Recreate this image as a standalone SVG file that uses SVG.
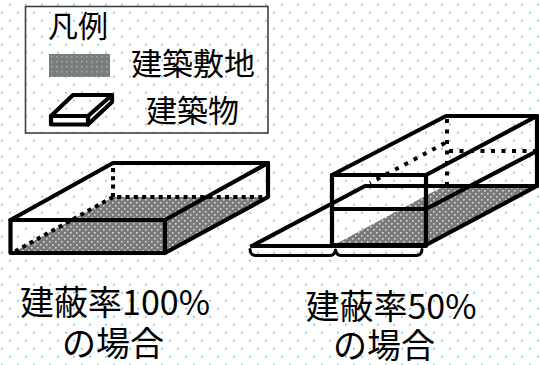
<svg xmlns="http://www.w3.org/2000/svg" width="539" height="365" viewBox="0 0 539 365">
  <defs>
    <pattern id="bgdots" x="0" y="0" width="16" height="16" patternUnits="userSpaceOnUse">
      <rect x="9" y="3.7" width="2" height="2" fill="#9ccfdc"/>
      <rect x="1" y="11.7" width="2" height="2" fill="#9ccfdc"/>
    </pattern>
    <pattern id="site" x="0" y="0" width="6" height="6" patternUnits="userSpaceOnUse">
      <rect width="6" height="6" fill="#7a7a7a"/>
      <rect x="1" y="1" width="1.6" height="1.6" fill="#d8d8d8"/>
      <rect x="4" y="4" width="1.6" height="1.6" fill="#d8d8d8"/>
    </pattern>
    <pattern id="swatch" x="0" y="0" width="5" height="5" patternUnits="userSpaceOnUse">
      <rect width="5" height="5" fill="#7c7c7c"/>
      <rect x="1" y="1" width="1.5" height="1.5" fill="#8fb4c0"/>
    </pattern>
  </defs>
  <style>
    .ln { fill: none; stroke: #000; stroke-width: 4.2; stroke-linejoin: round; stroke-linecap: round; }
    .dot { fill: none; stroke: #000; stroke-width: 4; stroke-linecap: butt; }
    .brace { fill: none; stroke: #000; stroke-width: 3; stroke-linecap: round; stroke-linejoin: round; }
    .txt { font-family: "Noto Sans CJK JP", "Noto Sans", sans-serif; fill: #000; }
  </style>

  <rect width="539" height="365" fill="#fff"/>
  <rect width="539" height="365" fill="url(#bgdots)"/>

  <g id="legend">
    <rect x="25.5" y="6.5" width="242.5" height="126.5" fill="none" stroke="#404040" stroke-width="1.6"/>
    <text class="txt" x="48" y="37" font-size="30">凡例</text>
    <rect x="49" y="54" width="61" height="23" fill="url(#swatch)"/>
    <text class="txt" x="131" y="75" font-size="31">建築敷地</text>
    <g id="legend-icon">
      <rect x="51" y="116" width="37" height="8.5" class="ln"/>
      <path d="M51,116 L73,95 L112,95 L88,116" class="ln"/>
      <path d="M112,95 L112,102 L88,124.5" class="ln"/>
    </g>
    <text class="txt" x="146" y="122" font-size="31">建築物</text>
  </g>

  <g id="building100">
    <polygon points="12,253 165,253 268,197 113,197" fill="url(#site)"/>
    <path d="M113,168 L113,197 L268,197" class="dot" stroke-dasharray="4 4.3"/>
    <path d="M113,197 L14,252" class="dot" stroke-dasharray="4 4.3"/>
    <rect x="10.5" y="220" width="154.5" height="33" class="ln"/>
    <path d="M10.5,220 L113,163 L268,163 L165,220" class="ln"/>
    <path d="M268,163 L268,197 L165,253" class="ln"/>
  </g>

  <g id="building50">
    <polygon points="332,246 426,246 537,186 444,186" fill="url(#site)"/>
    <path d="M447,119 L447,186" class="dot" stroke-dasharray="4 6.5"/>
    <path d="M449,151 L537,151" class="dot" stroke-dasharray="4 6.5"/>
    <path d="M445,143 L370,183" class="dot" stroke-dasharray="4 6.5"/>
    <path d="M252,246 L426,246" class="ln"/>
    <path d="M252,246 L365,186 L537,186" class="ln"/>
    <rect x="332" y="175" width="94" height="70" class="ln"/>
    <path d="M332,209 L426,209 L537,151" class="ln"/>
    <path d="M332,175 L446,116 L537,116 L426,175" class="ln"/>
    <path d="M537,116 L537,186 L426,245" class="ln"/>
  </g>

  <g id="braces">
    <path d="M250,249.5 Q250.5,255.5 256,255.5 L330,255.5 Q334.5,255.5 335.5,250 Q336.5,255.5 341,255.5 L416,255.5 Q421.5,255.5 422,249.5" class="brace"/>
  </g>

  <g id="labels">
    <text class="txt" font-size="34" text-anchor="middle"><tspan x="115" y="315">建蔽率100%</tspan><tspan x="113" y="356">の場合</tspan></text>
    <text class="txt" font-size="34" text-anchor="middle"><tspan x="391" y="319">建蔽率50%</tspan><tspan x="384" y="358">の場合</tspan></text>
  </g>
</svg>
